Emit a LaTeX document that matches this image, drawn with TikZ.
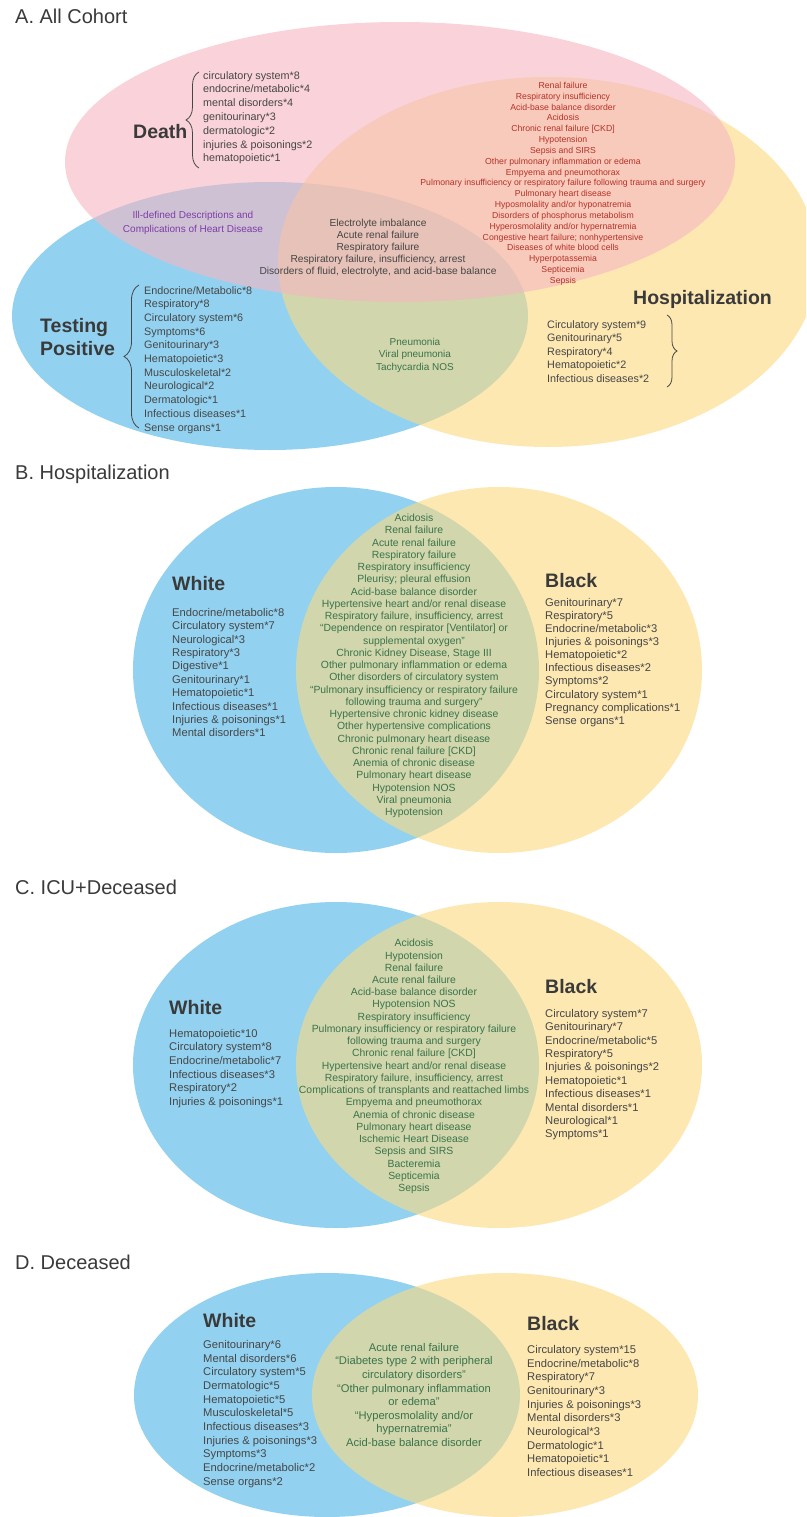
\documentclass[tikz,border=0pt]{standalone}
\usepackage{fontspec}
\setmainfont{Liberation Sans}
\usetikzlibrary{decorations.pathreplacing}

\definecolor{setblue}{RGB}{146,210,240}
\definecolor{setyellow}{RGB}{252,217,127}
\definecolor{setpink}{RGB}{245,182,193}
\definecolor{listgray}{RGB}{70,70,70}
\definecolor{labelgray}{RGB}{58,58,58}
\definecolor{sharedgreen}{RGB}{58,115,75}
\definecolor{sharedred}{RGB}{182,50,40}
\definecolor{sharedpurple}{RGB}{128,60,170}

\newcommand{\twoset}[5]{ \fill[setblue] ( #1 , #3 ) ellipse ( #4 and #5 );
  \fill[setyellow, fill opacity=0.6] ( #2 , #3 ) ellipse ( #4 and #5 );}

\tikzset{
  paneltitle/.style={anchor=base west, inner sep=0pt, font=\fontsize{20}{24}\selectfont, text=labelgray},
  setname/.style={anchor=base west, inner sep=0pt, font=\bfseries\fontsize{19.5}{23}\selectfont, text=labelgray},
  itemlist/.style={anchor=north west, inner sep=0pt, align=left, text=listgray},
  sharedlist/.style={anchor=north, inner sep=0pt, align=center, text=sharedgreen},
  grpbrace/.style={decorate, decoration={brace, amplitude=#1}, draw=listgray, line width=0.8pt}
}

\begin{document}
\begin{tikzpicture}[x=1pt, y=-1pt]
        \useasboundingbox (0,0) rectangle (806,1517);
        \fill[white] (0,0) rectangle (806,1517);

        % panel A
        \node[paneltitle] (titleA) at (15,24) {A. All Cohort};
        \begin{scope}
        \clip (0,0) rectangle (806,1517);
        \fill[setblue] (270,316) ellipse (258 and 134);
        \fill[setyellow, fill opacity=0.6] (548,262) ellipse (270 and 185);
        \fill[setpink, fill opacity=0.6] (400,162) ellipse (335 and 140);
        \end{scope}

        \node[setname] (death) at (133,139) {Death};
        \node[setname, anchor=north west, align=left] (testpos) at (40,318) {Testing\\Positive};
        \node[setname] (hosp) at (633,304) {Hospitalization};

        \node[itemlist, font=\fontsize{10.8}{13.8}\selectfont] (deathlist) at (203,71)
          {circulatory system*8\\endocrine/metabolic*4\\mental disorders*4\\genitourinary*3\\dermatologic*2\\injuries \& poisonings*2\\hematopoietic*1};
        \node[itemlist, font=\fontsize{10.8}{13.7}\selectfont] (testlist) at (144,286)
          {Endocrine/Metabolic*8\\Respiratory*8\\Circulatory system*6\\Symptoms*6\\Genitourinary*3\\Hematopoietic*3\\Musculoskeletal*2\\Neurological*2\\Dermatologic*1\\Infectious diseases*1\\Sense organs*1};
        \node[itemlist, font=\fontsize{10.8}{13.5}\selectfont] (hosplist) at (547,320)
          {Circulatory system*9\\Genitourinary*5\\Respiratory*4\\Hematopoietic*2\\Infectious diseases*2};

        \node[sharedlist, text=sharedred, font=\fontsize{8.7}{10.83}\selectfont] (deathhosp) at (563,82)
          {Renal failure\\Respiratory insufficiency\\Acid-base balance disorder\\Acidosis\\Chronic renal failure [CKD]\\Hypotension\\Sepsis and SIRS\\Other pulmonary inflammation or edema\\Empyema and pneumothorax\\Pulmonary insufficiency or respiratory failure following trauma and surgery\\Pulmonary heart disease\\Hyposmolality and/or hyponatremia\\Disorders of phosphorus metabolism\\Hyperosmolality and/or hypernatremia\\Congestive heart failure; nonhypertensive\\Diseases of white blood cells\\Hyperpotassemia\\Septicemia\\Sepsis};
        \node[sharedlist, text=sharedpurple, font=\fontsize{10}{14}\selectfont] (deathtest) at (193,211)
          {Ill-defined Descriptions and\\Complications of Heart Disease};
        \node[sharedlist, text=listgray, font=\fontsize{10.2}{12}\selectfont] (allthree) at (378,219)
          {Electrolyte imbalance\\Acute renal failure\\Respiratory failure\\Respiratory failure, insufficiency, arrest\\Disorders of fluid, electrolyte, and acid-base balance};
        \node[sharedlist, font=\fontsize{10}{12.3}\selectfont] (testhosp) at (415,338)
          {Pneumonia\\Viral pneumonia\\Tachycardia NOS};

        % braces
        \coordinate (dtop) at (199,72);
        \coordinate (dbot) at (199,168);
        \draw[grpbrace=13] (dbot) -- (dtop);
        \coordinate (ttop) at (139,285);
        \coordinate (tbot) at (139,428);
        \draw[grpbrace=15] (tbot) -- (ttop);
        \coordinate (htop) at (667,315);
        \coordinate (hbot) at (667,387);
        \draw[grpbrace=10] (htop) -- (hbot);

        % panel B
        \node[paneltitle] (titleB) at (15,479) {B. Hospitalization};
        \twoset{336}{499}{670}{203}{183}
        \node[setname] (whiteB) at (172,590) {White};
        \node[setname] (blackB) at (545,587) {Black};
        \node[itemlist, font=\fontsize{11.2}{13.4}\selectfont] (whitelistB) at (172,608)
          {Endocrine/metabolic*8\\Circulatory system*7\\Neurological*3\\Respiratory*3\\Digestive*1\\Genitourinary*1\\Hematopoietic*1\\Infectious diseases*1\\Injuries \& poisonings*1\\Mental disorders*1};
        \node[itemlist, font=\fontsize{11.2}{13.1}\selectfont] (blacklistB) at (545,598)
          {Genitourinary*7\\Respiratory*5\\Endocrine/metabolic*3\\Injuries \& poisonings*3\\Hematopoietic*2\\Infectious diseases*2\\Symptoms*2\\Circulatory system*1\\Pregnancy complications*1\\Sense organs*1};
        \node[sharedlist, font=\fontsize{10.4}{12.25}\selectfont] (bothB) at (414,514)
          {Acidosis\\Renal failure\\Acute renal failure\\Respiratory failure\\Respiratory insufficiency\\Pleurisy; pleural effusion\\Acid-base balance disorder\\Hypertensive heart and/or renal disease\\Respiratory failure, insufficiency, arrest\\“Dependence on respirator [Ventilator] or\\supplemental oxygen”\\Chronic Kidney Disease, Stage III\\Other pulmonary inflammation or edema\\Other disorders of circulatory system\\“Pulmonary insufficiency or respiratory failure\\following trauma and surgery”\\Hypertensive chronic kidney disease\\Other hypertensive complications\\Chronic pulmonary heart disease\\Chronic renal failure [CKD]\\Anemia of chronic disease\\Pulmonary heart disease\\Hypotension NOS\\Viral pneumonia\\Hypotension};

        % panel C
        \node[paneltitle] (titleC) at (15,894) {C. ICU+Deceased};
        \twoset{336}{499}{1065}{203}{163}
        \node[setname] (whiteC) at (169,1014) {White};
        \node[setname] (blackC) at (545,993) {Black};
        \node[itemlist, font=\fontsize{11.2}{13.6}\selectfont] (whitelistC) at (169,1029)
          {Hematopoietic*10\\Circulatory system*8\\Endocrine/metabolic*7\\Infectious diseases*3\\Respiratory*2\\Injuries \& poisonings*1};
        \node[itemlist, font=\fontsize{11.2}{13.4}\selectfont] (blacklistC) at (545,1009)
          {Circulatory system*7\\Genitourinary*7\\Endocrine/metabolic*5\\Respiratory*5\\Injuries \& poisonings*2\\Hematopoietic*1\\Infectious diseases*1\\Mental disorders*1\\Neurological*1\\Symptoms*1};
        \node[sharedlist, font=\fontsize{10.4}{12.25}\selectfont] (bothC) at (414,939)
          {Acidosis\\Hypotension\\Renal failure\\Acute renal failure\\Acid-base balance disorder\\Hypotension NOS\\Respiratory insufficiency\\Pulmonary insufficiency or respiratory failure\\following trauma and surgery\\Chronic renal failure [CKD]\\Hypertensive heart and/or renal disease\\Respiratory failure, insufficiency, arrest\\Complications of transplants and reattached limbs\\Empyema and pneumothorax\\Anemia of chronic disease\\Pulmonary heart disease\\Ischemic Heart Disease\\Sepsis and SIRS\\Bacteremia\\Septicemia\\Sepsis};

        % panel D
        \node[paneltitle] (titleD) at (15,1269) {D. Deceased};
        \twoset{327}{505}{1395}{193}{122}
        \node[setname] (whiteD) at (203,1327) {White};
        \node[setname] (blackD) at (527,1330) {Black};
        \node[itemlist, font=\fontsize{11.2}{13.7}\selectfont] (whitelistD) at (203,1340)
          {Genitourinary*6\\Mental disorders*6\\Circulatory system*5\\Dermatologic*5\\Hematopoietic*5\\Musculoskeletal*5\\Infectious diseases*3\\Injuries \& poisonings*3\\Symptoms*3\\Endocrine/metabolic*2\\Sense organs*2};
        \node[itemlist, font=\fontsize{11.2}{13.7}\selectfont] (blacklistD) at (527,1345)
          {Circulatory system*15\\Endocrine/metabolic*8\\Respiratory*7\\Genitourinary*3\\Injuries \& poisonings*3\\Mental disorders*3\\Neurological*3\\Dermatologic*1\\Hematopoietic*1\\Infectious diseases*1};
        \node[sharedlist, font=\fontsize{11.2}{13.6}\selectfont] (bothD) at (414,1343)
          {Acute renal failure\\“Diabetes type 2 with peripheral\\circulatory disorders”\\“Other pulmonary inflammation\\or edema”\\“Hyperosmolality and/or\\hypernatremia”\\Acid-base balance disorder};

\end{tikzpicture}
\end{document}
